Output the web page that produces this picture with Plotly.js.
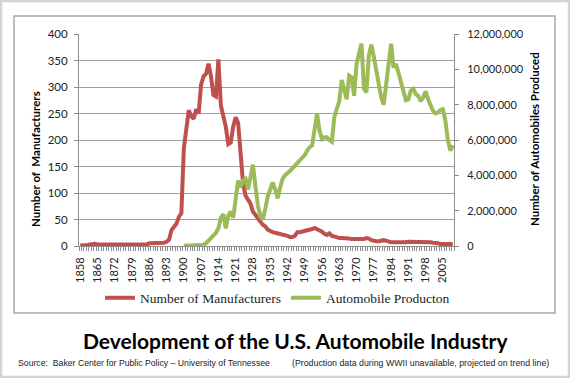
<!DOCTYPE html>
<html>
<head>
<meta charset="utf-8">
<script src="https://cdn.plot.ly/plotly-3.0.1.min.js"></script>
<style>html,body{margin:0;padding:0;background:#fff;}#chart{width:570px;height:378px;}</style>
</head>
<body>
<div id="chart"></div>
<script>
// Categories: years 1858-2009
const firstYear = 1858;
const lastYear = 2009;
const years = [];
for (let y = firstYear; y <= lastYear; y++) years.push(y);

// Number of manufacturers, 1858-2009
const manufacturers = [
  1,1,2,2,3,4,4,3,3,3,
  3,3,2,2,2,2,2,2,2,3,
  2,2,2,2,2,2,3,3,5,5,
  5,6,5,6,6,8,12,30,36,42,
  55,62,185,225,256,245,240,258,250,305,
  320,325,344,320,285,282,352,265,245,225,
  192,195,225,243,232,165,118,95,88,80,
  65,58,50,46,40,37,31,28,26,25,
  24,23,22,20,19,17,17,19,26,26,
  27,29,29,30,32,34,32,30,27,23,
  21,24,19,18,16,15,15,15,14,14,
  13,13,12,12,12,13,15,14,11,9,
  9,9,10,11,10,8,7,7,7,7,
  6,7,7,8,8,8,8,8,8,8,
  7,7,7,6,6,5,4,4,4,4,
  4,4
];

// Automobile production, 1900-2009 (earlier years: no data)
const productionYears = [];
for (let y = 1900; y <= lastYear; y++) productionYears.push(y);
const production = [
  0.01e6,0.01e6,0.01e6,0.02e6,0.02e6,0.03e6,0.04e6,0.05e6,0.08e6,0.15e6,
  0.3e6,0.45e6,0.55e6,0.75e6,1.0e6,1.6e6,1.8e6,1.0e6,1.7e6,1.95e6,
  1.6e6,2.6e6,3.7e6,3.3e6,3.7e6,3.8e6,3.2e6,3.9e6,4.6e6,3.4e6,
  2.3e6,1.7e6,1.5e6,2.1e6,2.8e6,3.2e6,3.6e6,3.2e6,2.7e6,3.3e6,
  3.8e6,4.0e6,4.1e6,4.25e6,4.4e6,4.55e6,4.7e6,4.85e6,5.0e6,5.15e6,
  5.4e6,5.6e6,5.7e6,6.5e6,7.5e6,6.5e6,6.05e6,6.15e6,6.15e6,6.0e6,
  5.9e6,7.3e6,7.8e6,8.2e6,9.4e6,8.8e6,8.3e6,9.65e6,9.55e6,8.5e6,
  10.3e6,10.9e6,11.45e6,8.9e6,8.7e6,10.8e6,11.4e6,10.7e6,9.9e6,9.0e6,
  8.4e6,8.0e6,9.3e6,10.5e6,11.45e6,10.1e6,10.3e6,9.8e6,9.3e6,8.6e6,
  8.25e6,8.3e6,8.8e6,8.9e6,8.6e6,8.5e6,8.2e6,8.4e6,8.75e6,8.3e6,
  8.0e6,7.65e6,7.5e6,7.55e6,7.7e6,7.75e6,7.1e6,6.0e6,5.4e6,5.7e6
];

const seriesNames = ["Number of Manufacturers", "Automobile Producton"];
const seriesColors = ["#C0504D", "#9BBB59"];

const chartTitle = "Development of the U.S. Automobile Industry";
const sourceText = "Source:  Baker Center for Public Policy \u2013 University of Tennessee";
const noteText = "(Production data during WWII unavailable, projected on trend line)";
const leftTitle = "Number of\u00a0 Manufacturers";
const rightTitle = "Number of Automobiles Produced";

const sans = "Lato, 'Open Sans', sans-serif";

const traces = [
  {x: years, y: manufacturers, type: "scatter", mode: "lines", name: seriesNames[0],
   line: {color: seriesColors[0], width: 4}, yaxis: "y"},
  {x: productionYears, y: production, type: "scatter", mode: "lines", name: seriesNames[1],
   line: {color: seriesColors[1], width: 4}, yaxis: "y2"}
];

// Plot area: x 79..454, y 34..246
const L = 79, R = 454, T = 34, B = 246, W = R - L, H = B - T;
const px = v => (v - L) / W;
const py = v => (B - v) / H;

const layout = {
  width: 570, height: 378,
  margin: {l: L, r: 570 - R, t: T, b: 378 - B, pad: 0},
  paper_bgcolor: "#ffffff", plot_bgcolor: "#ffffff",
  showlegend: true,
  font: {family: sans, color: "#222"},
  xaxis: {
    range: [firstYear - 0.5, lastYear + 0.5], tickmode: "linear", tick0: firstYear, dtick: 7,
    tickangle: -90, ticks: "outside", ticklen: 4, tickcolor: "rgba(0,0,0,0)",
    showline: true, linecolor: "#8c8c8c", linewidth: 1, showgrid: false, zeroline: false,
    tickfont: {family: sans, size: 11, color: "#222"}, ticklabelstandoff: 2,
    minor: {tick0: firstYear - 0.5, dtick: 1, ticks: "outside", ticklen: 4, tickcolor: "#8c8c8c", showgrid: false}
  },
  yaxis: {
    range: [0, 400], tickmode: "linear", tick0: 0, dtick: 50,
    showgrid: true, gridcolor: "#9e9e9e", gridwidth: 1,
    showline: true, linecolor: "#8c8c8c", ticks: "outside", ticklen: 4, tickcolor: "#8c8c8c",
    zeroline: false, tickfont: {family: sans, size: 11.5, color: "#222"}, ticklabelstandoff: 4
  },
  yaxis2: {
    overlaying: "y", side: "right", range: [0, 12e6], tickmode: "linear", tick0: 0, dtick: 2e6,
    tickformat: ",d", showgrid: false, showline: true, linecolor: "#8c8c8c",
    ticks: "outside", ticklen: 4, tickcolor: "#8c8c8c", zeroline: false,
    tickfont: {family: sans, size: 11, color: "#222"}, ticklabelstandoff: 6
  },
  legend: {
    orientation: "h", x: px(100), xanchor: "left", y: py(298), yanchor: "middle",
    font: {family: "'Liberation Serif', 'DejaVu Serif', serif", size: 13.5, color: "#222"},
    bgcolor: "rgba(0,0,0,0)", itemwidth: 30, tracegroupgap: 0
  },
  annotations: [
    {text: chartTitle, xref: "paper", yref: "paper", x: px(295.5), y: py(340), xanchor: "center", yanchor: "middle",
     showarrow: false, font: {family: sans, size: 21, color: "#000", weight: "bold"}},
    {text: sourceText, xref: "paper", yref: "paper", x: px(16), y: py(363), xanchor: "left", yanchor: "middle",
     showarrow: false, font: {family: "'Liberation Sans', Arial, sans-serif", size: 8.7, color: "#222"}},
    {text: noteText, xref: "paper", yref: "paper", x: px(290), y: py(363), xanchor: "left", yanchor: "middle",
     showarrow: false, font: {family: "'Liberation Sans', Arial, sans-serif", size: 8.8, color: "#222"}},
    {text: leftTitle, xref: "paper", yref: "paper", x: px(35), y: py(159), xanchor: "center", yanchor: "middle",
     textangle: -90, showarrow: false, font: {family: sans, size: 11.5, color: "#000", weight: "bold"}},
    {text: rightTitle, xref: "paper", yref: "paper", x: px(534.5), y: py(139.5), xanchor: "center", yanchor: "middle",
     textangle: -90, showarrow: false, font: {family: sans, size: 11.5, color: "#000", weight: "bold"}}
  ],
  shapes: [
    {type: "rect", xref: "paper", yref: "paper", x0: px(14), x1: px(555), y0: py(16), y1: py(313),
     line: {color: "#a6a6a6", width: 1.5}, fillcolor: "rgba(0,0,0,0)", layer: "below"},
    {type: "rect", xref: "paper", yref: "paper", x0: px(1), x1: px(569), y0: py(1), y1: py(377),
     line: {color: "#d4d4d4", width: 2.5}, fillcolor: "rgba(0,0,0,0)", layer: "below"}
  ]
};

Plotly.newPlot("chart", traces, layout, {displayModeBar: false, staticPlot: true});
</script>
</body>
</html>
